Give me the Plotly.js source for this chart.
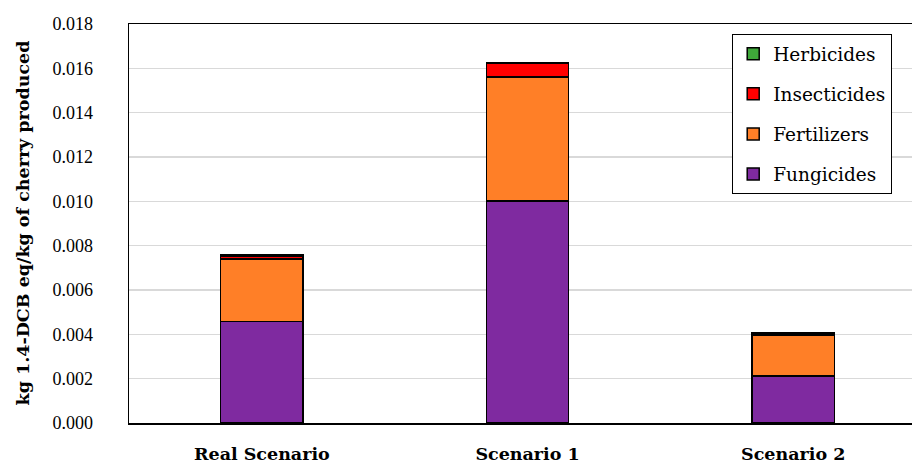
<!DOCTYPE html>
<html>
<head>
<meta charset="utf-8">
<script src="https://cdn.plot.ly/plotly-3.0.1.min.js"></script>
<style>html,body{margin:0;padding:0;background:#fff;}#chart{width:912px;height:464px;}</style>
</head>
<body>
<div id="chart"></div>
<script>
const categories = ["Real Scenario", "Scenario 1", "Scenario 2"];
const fungicides = [0.00459, 0.01001, 0.00212];
const fertilizers = [0.00281, 0.00561, 0.00186];
const insecticides = [0.00013, 0.00060, 0.00005];
const herbicides = [0.00004, 0.00002, 0.00003];
const seriesNames = ["Fungicides", "Fertilizers", "Insecticides", "Herbicides"];
const seriesValues = [fungicides, fertilizers, insecticides, herbicides];
const seriesColors = ["#7F2AA0", "#FF7F27", "#FF0000", "#3FA83A"];
const yTicks = [0, 0.002, 0.004, 0.006, 0.008, 0.010, 0.012, 0.014, 0.016, 0.018];
const yTitle = "kg 1.4-DCB eq/kg of cherry produced";

const serif = "'Liberation Serif', serif";
const wide = "'DejaVu Serif', serif";
const traces = seriesNames.map((n, i) => ({
  type: "bar",
  name: n,
  x: categories,
  y: seriesValues[i],
  width: 0.31,
  legendgroup: n,
  legendrank: 1000 - i,
  marker: {color: seriesColors[i], line: {color: "#000", width: 1.5}}
}));

const layout = {
  width: 912, height: 464,
  margin: {l: 129, r: 0, t: 24, b: 41},
  barmode: "stack",
  paper_bgcolor: "#fff", plot_bgcolor: "#fff",
  font: {family: serif, size: 18, color: "#000"},
  showlegend: true,
  legend: {
    x: 0.77, y: 0.975, xanchor: "left", yanchor: "top",
    bordercolor: "#000", borderwidth: 1.3, bgcolor: "#fff",
    traceorder: "grouped", tracegroupgap: 13,
    font: {family: wide, size: 18.5, color: "#000"},
    itemwidth: 30,
    entrywidth: 130, entrywidthmode: "pixels"
  },
  xaxis: {
    type: "category",
    range: [-0.5, 2.447],
    showline: true, linecolor: "#000", linewidth: 1.5, mirror: true,
    ticks: "", showgrid: false,
    tickfont: {family: wide, size: 17.5, weight: "bold", color: "#000"},
    ticklabelstandoff: 14
  },
  yaxis: {
    range: [0, 0.018],
    tickvals: yTicks,
    tickformat: ".3f",
    showline: true, linecolor: "#000", linewidth: 1.5,
    showgrid: true, gridcolor: "#d9d9d9", gridwidth: 1.3,
    zeroline: false, ticks: "",
    tickfont: {family: serif, size: 18, color: "#000"},
    ticklabelstandoff: 31
  },
  annotations: [{
    text: yTitle, xref: "paper", yref: "paper",
    x: (22 - 129) / 783, y: 0.5, xanchor: "center", yanchor: "middle",
    textangle: -90, showarrow: false,
    font: {family: wide, size: 17.5, weight: "bold", color: "#000"}
  }]
};

Plotly.newPlot("chart", traces, layout, {displayModeBar: false, staticPlot: true});
</script>
</body>
</html>
